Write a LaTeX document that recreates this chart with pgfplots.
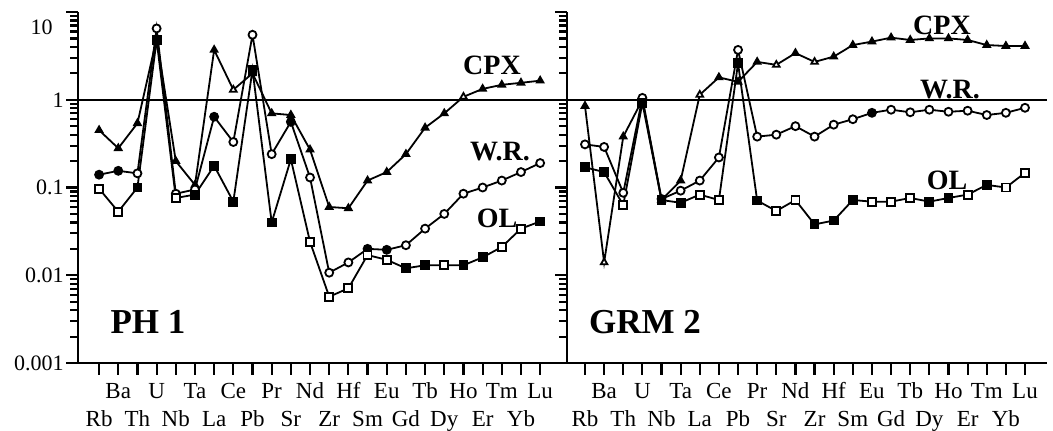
\documentclass[border=0pt]{standalone}
\usepackage{fontspec}
\setmainfont{Liberation Serif}
\usepackage{pgfplots}
\usepackage{pgfplotstable}
\pgfplotsset{compat=1.18}

% PH 1
\pgfplotstableread{
x y f
0 0.45 f
1 0.28 f
2 0.54 f
3 5.0 f
4 0.20 f
5 0.107 f
6 3.7 f
7 1.3 o
8 2.0 f
9 0.70 f
10 0.67 f
11 0.27 f
12 0.060 f
13 0.058 f
14 0.12 f
15 0.15 f
16 0.24 f
17 0.48 f
18 0.70 f
19 1.08 o
20 1.33 f
21 1.48 f
22 1.56 f
23 1.65 f
}\LCPX
\pgfplotstableread{
x y f
0 0.14 f
1 0.155 f
2 0.145 o
3 6.5 o
4 0.085 o
5 0.095 o
6 0.64 f
7 0.33 o
8 5.5 o
9 0.24 o
10 0.56 f
11 0.13 o
12 0.0107 o
13 0.014 o
14 0.020 f
15 0.0195 f
16 0.022 o
17 0.034 o
18 0.050 o
19 0.085 o
20 0.10 o
21 0.12 o
22 0.15 o
23 0.19 o
}\LWR
\pgfplotstableread{
x y f
0 0.097 o
1 0.053 o
2 0.10 f
3 4.8 f
4 0.076 o
5 0.083 f
6 0.177 f
7 0.069 f
8 2.2 f
9 0.040 f
10 0.21 f
11 0.024 o
12 0.0057 o
13 0.0071 o
14 0.017 o
15 0.015 o
16 0.012 f
17 0.013 f
18 0.013 o
19 0.013 f
20 0.016 f
21 0.021 o
22 0.034 o
23 0.041 f
}\LOL
% GRM 2
\pgfplotstableread{
x y f
0 0.85 f
1 0.014 o
2 0.38 f
3 1.0 f
4 0.072 f
5 0.12 f
6 1.14 o
7 1.8 f
8 1.6 f
9 2.7 f
10 2.5 o
11 3.4 f
12 2.7 o
13 3.1 f
14 4.2 f
15 4.6 f
16 5.1 f
17 4.8 f
18 5.0 f
19 5.0 f
20 4.8 f
21 4.2 f
22 4.1 f
23 4.1 f
}\RCPX
\pgfplotstableread{
x y f
0 0.31 o
1 0.29 o
2 0.087 o
3 1.05 o
4 0.074 f
5 0.092 o
6 0.12 o
7 0.22 o
8 3.7 o
9 0.38 o
10 0.40 o
11 0.50 o
12 0.38 o
13 0.52 o
14 0.60 o
15 0.71 f
16 0.77 o
17 0.72 o
18 0.77 o
19 0.73 o
20 0.75 o
21 0.67 o
22 0.71 o
23 0.81 o
}\RWR
\pgfplotstableread{
x y f
0 0.17 f
1 0.15 f
2 0.063 o
3 0.92 f
4 0.072 f
5 0.067 f
6 0.083 o
7 0.072 o
8 2.6 f
9 0.071 f
10 0.054 o
11 0.072 o
12 0.038 f
13 0.042 f
14 0.072 f
15 0.069 o
16 0.069 o
17 0.076 o
18 0.069 f
19 0.076 f
20 0.083 o
21 0.107 f
22 0.10 o
23 0.147 o
}\ROL

\begin{document}
\begin{tikzpicture}
\path[use as bounding box] (-39pt,-33.5pt) rectangle (487.5pt,181.5pt);
\begin{axis}[width=244.5pt, at={(0pt,0pt)}, anchor=south west,
  xmin=-1.1, xmax=24.4,
  scale only axis, height=175.5pt,
  ymode=log, ymin=0.001, ymax=10,
  axis x line*=bottom, axis y line*=left,
  axis line style={line width=1.4pt},
  tick align=outside,
  tick style={black, line width=1.1pt},
  major tick length=6pt, minor tick length=4pt,
  ytick={0.001,0.01,0.1,1,10},
  yticklabels={0.001,0.01,0.1,1,{}},
  minor ytick={0.002,0.003,0.004,0.005,0.006,0.007,0.008,0.009,0.02,0.03,0.04,0.05,0.06,0.07,0.08,0.09,0.2,0.3,0.4,0.5,0.6,0.7,0.8,0.9,2,3,4,5,6,7,8,9},
  xtick={1,3,...,23},
  xticklabels={Ba,U,Ta,Ce,Pr,Nd,Hf,Eu,Tb,Ho,Tm,Lu},
  extra x ticks={0,2,...,22},
  extra x tick labels={Rb,Th,Nb,La,Pb,Sr,Zr,Sm,Gd,Dy,Er,Yb},
  extra x tick style={xticklabel style={yshift=-14pt}},
  xticklabel style={font=\fontsize{11.5}{12}\selectfont, inner sep=1pt, text height=7.5pt, text depth=2pt, yshift=-3pt},
  yticklabel style={font=\fontsize{11}{12}\selectfont, inner sep=1pt},
  clip=false]
  \addplot[black, line width=1pt, mark=none] coordinates {(-1.1,1) (24.4,1)};
  \addplot[black, line width=0.9pt, mark size=1.9pt, scatter, point meta=explicit symbolic,
    scatter/classes={f={mark=triangle*, fill=black, draw=black}, o={mark=triangle*, fill=white, draw=black}}]
    table[x=x, y=y, meta=f] {\LCPX};
  \addplot[black, line width=0.9pt, mark size=2pt, scatter, point meta=explicit symbolic,
    scatter/classes={f={mark=*, fill=black, draw=black}, o={mark=*, fill=white, draw=black}}]
    table[x=x, y=y, meta=f] {\LWR};
  \addplot[black, line width=0.9pt, mark size=2pt, scatter, point meta=explicit symbolic,
    scatter/classes={f={mark=square*, fill=black, draw=black}, o={mark=square*, fill=white, draw=black}}]
    table[x=x, y=y, meta=f] {\LOL};
\end{axis}
\begin{axis}[width=240pt, at={(244.5pt,0pt)}, anchor=south west,
  xmin=-0.94, xmax=24.15,
  scale only axis, height=175.5pt,
  ymode=log, ymin=0.001, ymax=10,
  axis x line*=bottom, axis y line*=left,
  axis line style={line width=1.4pt},
  tick align=outside,
  tick style={black, line width=1.1pt},
  major tick length=6pt, minor tick length=4pt,
  ytick={0.001,0.01,0.1,1,10},
  yticklabels={},
  minor ytick={0.002,0.003,0.004,0.005,0.006,0.007,0.008,0.009,0.02,0.03,0.04,0.05,0.06,0.07,0.08,0.09,0.2,0.3,0.4,0.5,0.6,0.7,0.8,0.9,2,3,4,5,6,7,8,9},
  xtick={1,3,...,23},
  xticklabels={Ba,U,Ta,Ce,Pr,Nd,Hf,Eu,Tb,Ho,Tm,Lu},
  extra x ticks={0,2,...,22},
  extra x tick labels={Rb,Th,Nb,La,Pb,Sr,Zr,Sm,Gd,Dy,Er,Yb},
  extra x tick style={xticklabel style={yshift=-14pt}},
  xticklabel style={font=\fontsize{11.5}{12}\selectfont, inner sep=1pt, text height=7.5pt, text depth=2pt, yshift=-3pt},
  clip=false]
  \addplot[black, line width=1pt, mark=none] coordinates {(-0.94,1) (24.15,1)};
  \addplot[black, line width=0.9pt, mark size=1.9pt, scatter, point meta=explicit symbolic,
    scatter/classes={f={mark=triangle*, fill=black, draw=black}, o={mark=triangle*, fill=white, draw=black}}]
    table[x=x, y=y, meta=f] {\RCPX};
  \addplot[black, line width=0.9pt, mark size=2pt, scatter, point meta=explicit symbolic,
    scatter/classes={f={mark=*, fill=black, draw=black}, o={mark=*, fill=white, draw=black}}]
    table[x=x, y=y, meta=f] {\RWR};
  \addplot[black, line width=0.9pt, mark size=2pt, scatter, point meta=explicit symbolic,
    scatter/classes={f={mark=square*, fill=black, draw=black}, o={mark=square*, fill=white, draw=black}}]
    table[x=x, y=y, meta=f] {\ROL};
\end{axis}
\node[anchor=east, font=\fontsize{11}{12}\selectfont, inner sep=0pt] at (-12.5pt,168pt) {10};
\node[font=\bfseries\fontsize{17.5}{18}\selectfont] at (35pt,20.5pt) {PH 1};
\node[font=\bfseries\fontsize{17.5}{18}\selectfont] at (283.5pt,20.5pt) {GRM 2};
\node[font=\bfseries\fontsize{14}{14}\selectfont] at (207pt,149pt) {CPX};
\node[font=\bfseries\fontsize{14}{14}\selectfont] at (211pt,105.5pt) {W.R.};
\node[font=\bfseries\fontsize{14}{14}\selectfont] at (209.5pt,72.5pt) {OL};
\node[font=\bfseries\fontsize{14}{14}\selectfont] at (432pt,169pt) {CPX};
\node[font=\bfseries\fontsize{14}{14}\selectfont] at (436pt,136.5pt) {W.R.};
\node[font=\bfseries\fontsize{14}{14}\selectfont] at (434.5pt,91.5pt) {OL};
\end{tikzpicture}
\end{document}
